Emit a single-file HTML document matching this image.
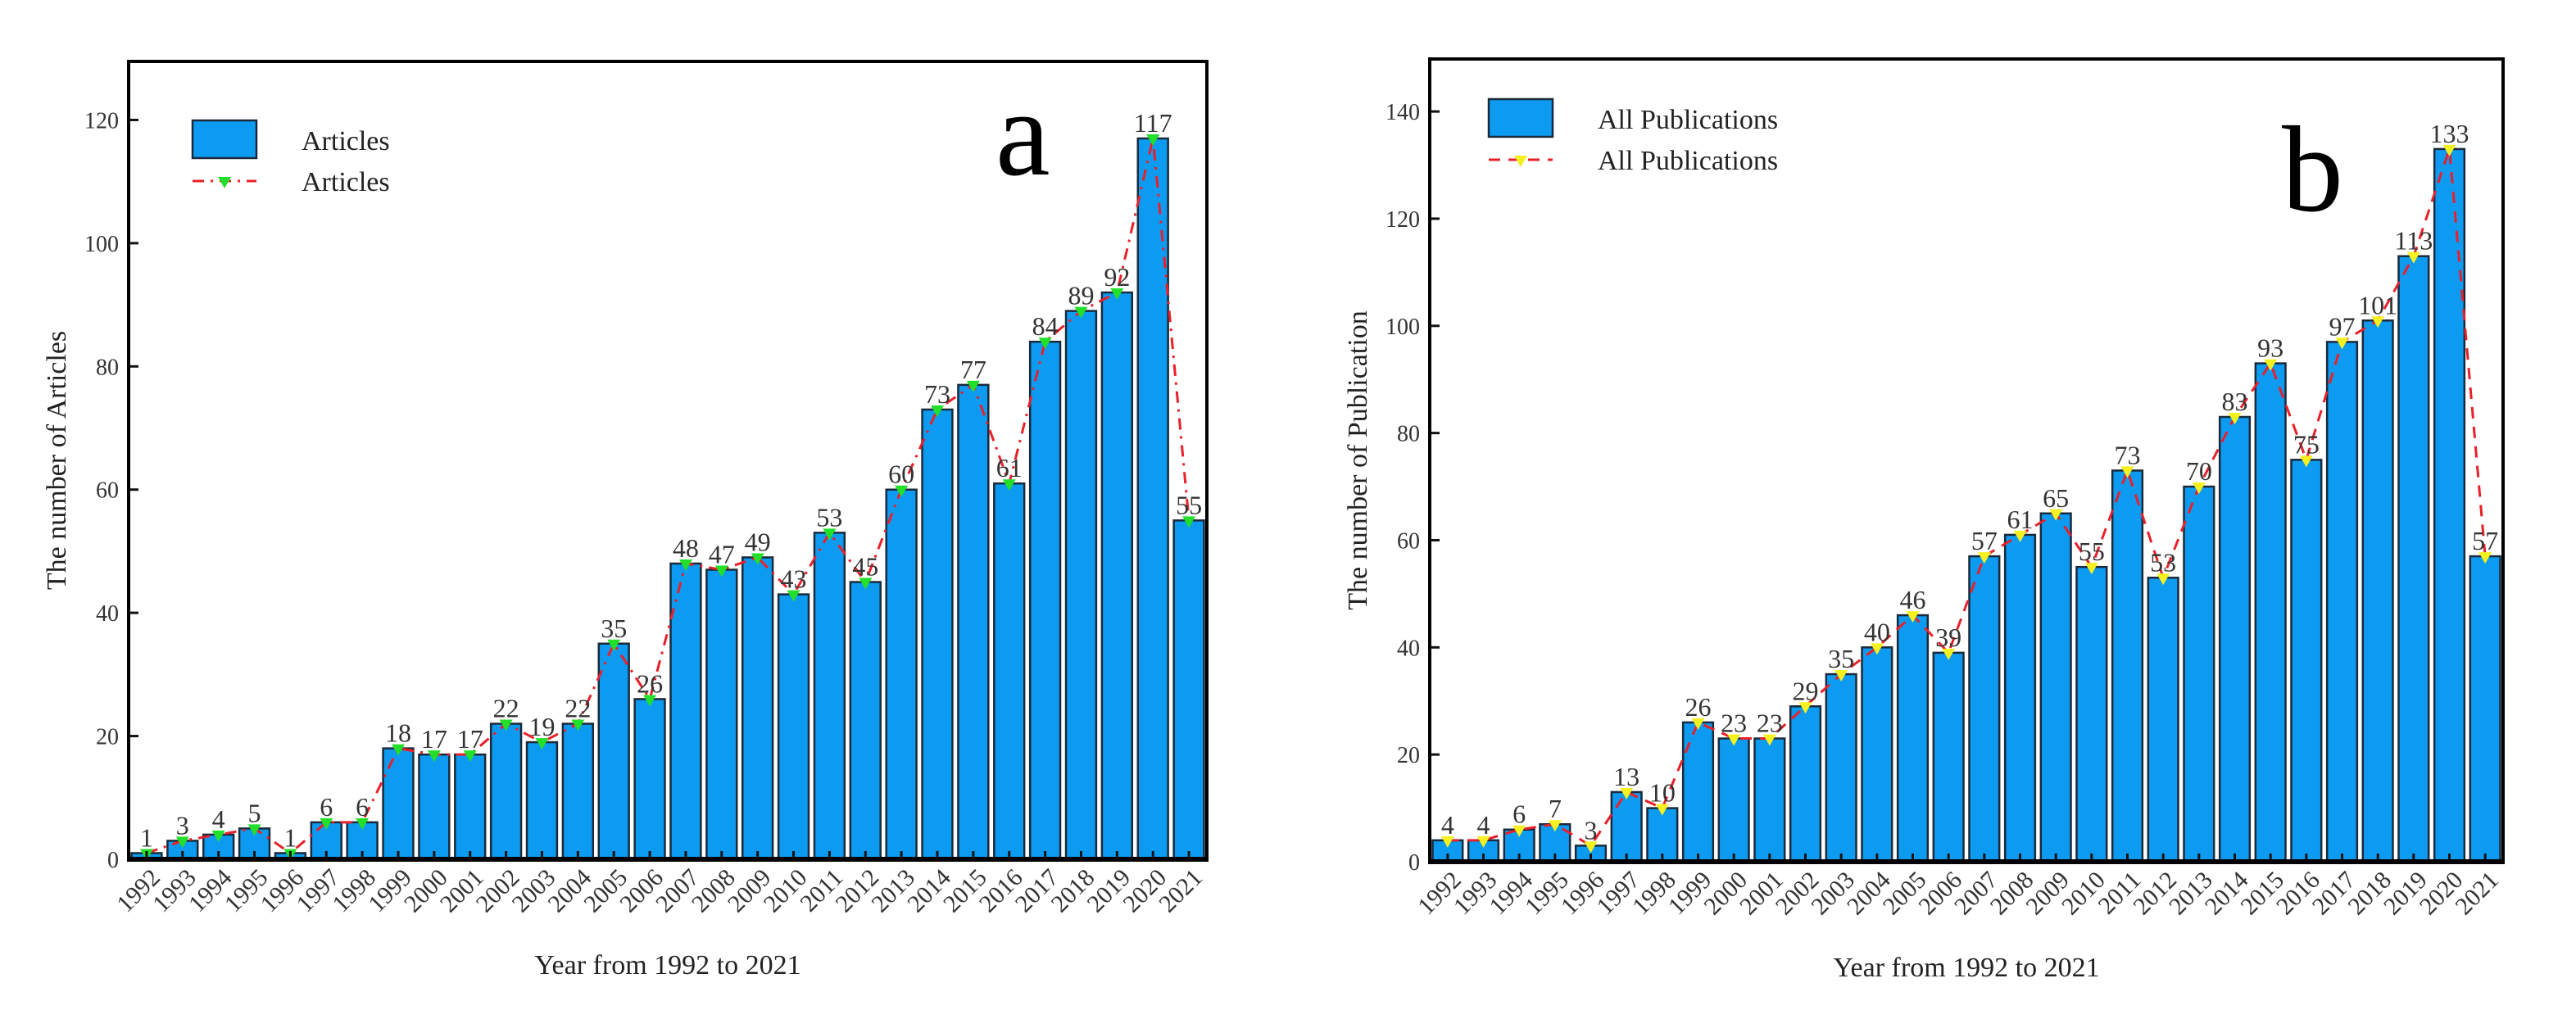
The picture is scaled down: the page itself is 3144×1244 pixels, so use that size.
<!DOCTYPE html>
<html><head><meta charset="utf-8"><style>
html,body{margin:0;padding:0;background:#fff;}
svg{display:block;font-family:"Liberation Serif",serif;}
</style></head><body>
<svg id="fig" width="3144" height="1244" viewBox="0 0 3144 1244" xmlns="http://www.w3.org/2000/svg"></svg>
<script>
const years = [1992,1993,1994,1995,1996,1997,1998,1999,2000,2001,2002,2003,2004,2005,2006,2007,2008,2009,2010,2011,2012,2013,2014,2015,2016,2017,2018,2019,2020,2021];
const articles = [1,3,4,5,1,6,6,18,17,17,22,19,22,35,26,48,47,49,43,53,45,60,73,77,61,84,89,92,117,55];
const publications = [4,4,6,7,3,13,10,26,23,23,29,35,40,46,39,57,61,65,55,73,53,70,83,93,75,97,101,113,133,57];
const ticksA = [0,20,40,60,80,100,120];
const ticksB = [0,20,40,60,80,100,120,140];

const NS="http://www.w3.org/2000/svg";
const svg=document.getElementById('fig');
function mk(tag,attrs,parent){const e=document.createElementNS(NS,tag);for(const k in attrs)e.setAttribute(k,attrs[k]);(parent||svg).appendChild(e);return e;}

function chart(cfg){
  const g=mk('g',{});
  
  
  const {L,R,T,B,max}=cfg;
  const band=(R-L)/cfg.cats.length;
  const x=i=>L+band*(i+0.5);
  const y=v=>B-(B-T)*v/max;
  const bw=band*0.84;
  // bars
  cfg.vals.forEach((v,i)=>{
    const r=mk('rect',{x:x(i)-bw/2,y:y(v),width:bw,height:B-y(v),fill:'#0d9bf2',stroke:'#1a2a3a','stroke-width':2.5},g);
    
    
  });
  // line
  const pts=cfg.vals.map((v,i)=>x(i)+','+y(v)).join(' ');
  const pl=mk('polyline',{points:pts,fill:'none',stroke:'#e8202a','stroke-width':3,'stroke-dasharray':cfg.dash},g);
  
  
  cfg.vals.forEach((v,i)=>{
    const cx=x(i),cy=y(v);
    const m=mk('path',{d:`M${cx-8},${cy-5} L${cx+8},${cy-5} L${cx},${cy+9} Z`,fill:cfg.mk},g);
    
    
    const t=mk('text',{x:cx,y:cy-8,'text-anchor':'middle','font-size':32,fill:'#333'},g);
    t.textContent=v;
    
    
    // inner tick
    mk('line',{x1:cx,y1:B,x2:cx,y2:B-10,stroke:'#111','stroke-width':3},g);
    const xl=mk('text',{x:cx+18,y:B+24,'text-anchor':'end','font-size':30,fill:'#333',transform:`rotate(-45 ${cx+18} ${B+24})`},g);
    xl.textContent=cfg.cats[i];
    
    
  });
  // y ticks
  cfg.ticks.forEach(tv=>{
    mk('line',{x1:L,y1:y(tv),x2:L+12,y2:y(tv),stroke:'#111','stroke-width':3},g);
    const t=mk('text',{x:L-12,y:y(tv)+10,'text-anchor':'end','font-size':28,fill:'#333'},g);
    t.textContent=tv;
    
    
  });
  // frame
  const f=mk('rect',{x:L,y:T,width:R-L,height:B-T,fill:'none',stroke:'#000','stroke-width':4},g);
  
  
  mk('line',{x1:L-2,y1:B,x2:R+2,y2:B,stroke:'#000','stroke-width':6},g);
  // legend
  const lb=mk('rect',{x:cfg.lx,y:cfg.ly,width:78,height:46,fill:'#0d9bf2',stroke:'#1a2a3a','stroke-width':2.5},g);
  
  
  const ll=mk('line',{x1:cfg.lx,y1:cfg.ly+74,x2:cfg.lx+78,y2:cfg.ly+74,stroke:'#e8202a','stroke-width':3,'stroke-dasharray':cfg.dash},g);
  
  
  const lxm=cfg.lx+39,lym=cfg.ly+74;
  mk('path',{d:`M${lxm-8},${lym-5} L${lxm+8},${lym-5} L${lxm},${lym+9} Z`,fill:cfg.mk},g);
  const t1=mk('text',{x:cfg.lx+133,y:cfg.ly+36,'font-size':34,fill:'#222'},g);
  t1.textContent=cfg.legend;
  
  
  const t2=mk('text',{x:cfg.lx+133,y:cfg.ly+86,'font-size':34,fill:'#222'},g);
  t2.textContent=cfg.legend;
  
  
  // panel letter
  const pl2=mk('text',{x:cfg.letX,y:cfg.letY,'font-size':150,fill:'#000'},g);
  pl2.textContent=cfg.letter;
  
  
  // axis titles
  const xt=mk('text',{x:(L+R)/2,y:B+140,'text-anchor':'middle','font-size':34,fill:'#222'},g);
  xt.textContent='Year from 1992 to 2021';
  
  
  const yc=(T+B)/2, yx=cfg.ytX;
  const yt=mk('text',{x:yx,y:yc,'text-anchor':'middle','font-size':34,fill:'#222',transform:`rotate(-90 ${yx} ${yc})`},g);
  yt.textContent=cfg.ytitle;
  
  
}

chart({name:'chart-a-articles',cats:years,vals:articles,ticks:ticksA,L:157,R:1473,T:75,B:1049,max:129.5,
  dash:'14 8 3 8',mk:'#22e02a',lx:235,ly:147,legend:'Articles',letter:'a',letX:1215,letY:213,ytitle:'The number of Articles',ytX:80});
chart({name:'chart-b-publications',cats:years,vals:publications,ticks:ticksB,L:1745,R:3055,T:72,B:1052,max:149.8,
  dash:'14 10',mk:'#f5f020',lx:1817,ly:121,legend:'All Publications',letter:'b',letX:2785,letY:257,ytitle:'The number of Publication',ytX:1668});
</script>
</body></html>
